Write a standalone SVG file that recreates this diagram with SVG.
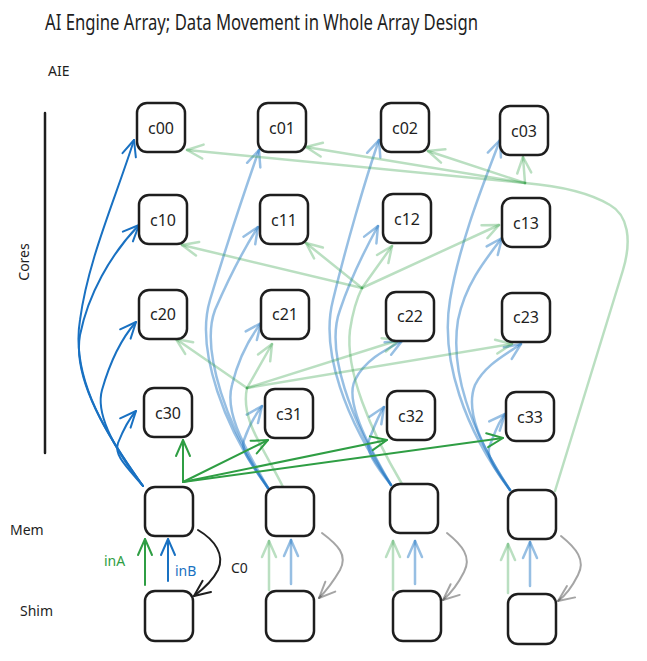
<svg xmlns="http://www.w3.org/2000/svg" width="647" height="661" viewBox="0 0 647 661">
<defs>
<style>
.box{fill:#fff;stroke:#1e1e1e;stroke-width:2.5}
.lbl{font-family:"Noto Sans","Liberation Sans",sans-serif;font-size:16px;fill:#1e1e1e;text-anchor:middle;dominant-baseline:central}
.txt{font-family:"Noto Sans","Liberation Sans",sans-serif;font-size:14px;fill:#1e1e1e}
.c{fill:none;stroke-linecap:round;stroke-linejoin:round}
.db{stroke:#1971c2;stroke-width:2;marker-end:url(#aDB)}
.lb{stroke:#1971c2;stroke-opacity:0.45;stroke-width:2.5;marker-end:url(#aLB)}
.dg{stroke:#2f9e44;stroke-width:2;marker-end:url(#aDG)}
.lg{stroke:#2f9e44;stroke-opacity:0.33;stroke-width:2.5}
.lga{stroke:#2f9e44;stroke-opacity:0.33;stroke-width:2.5;marker-end:url(#aLG)}
.bk{stroke:#1e1e1e;stroke-width:2;marker-end:url(#aBK)}
.gy{stroke:#1e1e1e;stroke-opacity:0.4;stroke-width:2;marker-end:url(#aGY)}
</style>
<marker id="aDB" markerUnits="userSpaceOnUse" viewBox="-20 -10 24 20" refX="0" refY="0" markerWidth="24" markerHeight="20" orient="auto"><path d="M-16,-7 L0,0 L-16,7" fill="none" stroke="#1971c2" stroke-width="2" stroke-linecap="round" stroke-linejoin="round"/></marker>
<marker id="aLB" markerUnits="userSpaceOnUse" viewBox="-20 -10 24 20" refX="0" refY="0" markerWidth="24" markerHeight="20" orient="auto"><path d="M-16,-7 L0,0 L-16,7" fill="none" stroke="#1971c2" stroke-opacity="0.45" stroke-width="2.5" stroke-linecap="round" stroke-linejoin="round"/></marker>
<marker id="aDG" markerUnits="userSpaceOnUse" viewBox="-20 -10 24 20" refX="0" refY="0" markerWidth="24" markerHeight="20" orient="auto"><path d="M-16,-7 L0,0 L-16,7" fill="none" stroke="#2f9e44" stroke-width="2" stroke-linecap="round" stroke-linejoin="round"/></marker>
<marker id="aLG" markerUnits="userSpaceOnUse" viewBox="-20 -10 24 20" refX="0" refY="0" markerWidth="24" markerHeight="20" orient="auto"><path d="M-16,-7 L0,0 L-16,7" fill="none" stroke="#2f9e44" stroke-opacity="0.33" stroke-width="2.5" stroke-linecap="round" stroke-linejoin="round"/></marker>
<marker id="aBK" markerUnits="userSpaceOnUse" viewBox="-20 -10 24 20" refX="0" refY="0" markerWidth="24" markerHeight="20" orient="auto"><path d="M-16,-7 L0,0 L-16,7" fill="none" stroke="#1e1e1e" stroke-width="2" stroke-linecap="round" stroke-linejoin="round"/></marker>
<marker id="aGY" markerUnits="userSpaceOnUse" viewBox="-20 -10 24 20" refX="0" refY="0" markerWidth="24" markerHeight="20" orient="auto"><path d="M-16,-7 L0,0 L-16,7" fill="none" stroke="#1e1e1e" stroke-opacity="0.4" stroke-width="2" stroke-linecap="round" stroke-linejoin="round"/></marker>
</defs>
<rect width="647" height="661" fill="#fff"/>

<g id="labels">
<text x="45" y="30" font-family="Noto Sans, Liberation Sans, sans-serif" font-size="21" fill="#1e1e1e" textLength="433" lengthAdjust="spacingAndGlyphs">AI Engine Array; Data Movement in Whole Array Design</text>
<text class="txt" x="48" y="76" font-size="13">AIE</text>
<text class="txt" transform="translate(29,262) rotate(-90)" text-anchor="middle">Cores</text>
<text class="txt" x="10" y="535">Mem</text>
<text class="txt" x="20" y="616">Shim</text>
<text class="txt" x="104" y="566" font-size="13" style="fill:#2f9e44">inA</text>
<text class="txt" x="175" y="576" font-size="13" style="fill:#1971c2">inB</text>
<text class="txt" x="231" y="573">C0</text>
<line x1="45" y1="113" x2="45" y2="453" stroke="#1e1e1e" stroke-width="2.5" stroke-linecap="round"/>
</g>

<g id="connectors">
<!-- dark blue fan from Mem0 -->
<path class="c db" d="M143,486 C110,440 70,380 80,320 C88,260 115,200 134,140"/>
<path class="c db" d="M143,486 C110,440 72,380 80,335 C88,295 110,255 139,225"/>
<path class="c db" d="M143,486 C115,450 95,415 102,390 C110,362 120,340 136,322"/>
<path class="c db" d="M143,486 C125,465 114,455 118,443 C122,433 128,420 136,411"/>
<!-- light blue col 1 -->
<path class="c lb" d="M268,488 C225,430 195,350 210,300 C225,250 245,190 259,150"/>
<path class="c lb" d="M268,488 C228,430 200,350 215,310 C228,280 240,255 258,227"/>
<path class="c lb" d="M268,488 C240,440 225,410 232,385 C238,360 248,340 261,323"/>
<path class="c lb" d="M268,488 C252,465 240,450 244,440 C248,428 253,418 262,406"/>
<!-- light blue col 2 -->
<path class="c lb" d="M391,485 C345,420 320,350 333,300 C345,250 365,180 379,140"/>
<path class="c lb" d="M391,485 C350,420 325,350 340,310 C350,280 362,255 378,226"/>
<path class="c lb" d="M391,485 C365,440 345,400 355,380 C365,360 385,350 402,341"/>
<path class="c lb" d="M391,485 C375,465 365,450 369,440 C373,430 377,418 384,407"/>
<!-- light blue col 3 -->
<path class="c lb" d="M510,490 C465,430 440,360 450,300 C460,240 485,180 500,140"/>
<path class="c lb" d="M510,490 C470,430 450,370 458,320 C465,285 485,260 502,238"/>
<path class="c lb" d="M510,490 C480,445 465,410 475,385 C485,365 505,355 521,344"/>
<path class="c lb" d="M510,490 C495,470 485,455 490,445 C494,435 498,422 505,414"/>
<!-- light green row 2 broadcast from Mem1 -->
<path class="c lg" d="M283,487 C265,450 240,420 247,388"/>
<path class="c lga" d="M247,388 L176,339"/>
<path class="c lga" d="M247,388 L272,344"/>
<path class="c lga" d="M247,388 L399,340"/>
<path class="c lga" d="M247,388 L512,344"/>
<!-- light green row 1 broadcast from Mem2 -->
<path class="c lg" d="M402,484 C370,430 345,370 350,330 C353,310 357,298 362,288"/>
<path class="c lga" d="M362,288 L182,245"/>
<path class="c lga" d="M362,288 L306,243"/>
<path class="c lga" d="M362,288 L392,246"/>
<path class="c lga" d="M362,288 L499,225"/>
<!-- light green row 0 broadcast from Mem3 -->
<path class="c lg" d="M555,491 L623,270 C632,240 628,215 610,205 C590,193 560,186 525,183"/>
<path class="c lga" d="M525,183 L187,150"/>
<path class="c lga" d="M525,183 L306,147"/>
<path class="c lga" d="M525,183 L428,151"/>
<path class="c lga" d="M525,183 L523,157"/>
<!-- dark green row 3 broadcast from Mem0 -->
<path class="c dg" d="M183,482 L183,440"/>
<path class="c dg" d="M183,482 L268,440"/>
<path class="c dg" d="M183,482 L387,440"/>
<path class="c dg" d="M183,482 L503,438"/>
<!-- shim to mem -->
<path class="c dg" d="M145,585 L145,539"/>
<path class="c db" d="M168,581 L168,539"/>
<path class="c lga" d="M269,590 L269,541"/>
<path class="c lb" d="M291,584 L291,540"/>
<path class="c lga" d="M393,590 L393,541"/>
<path class="c lb" d="M415,584 L415,541"/>
<path class="c lga" d="M508,593 L508,544"/>
<path class="c lb" d="M530,586 L530,542"/>
<!-- mem to shim -->
<path class="c bk" d="M198,530 C215,540 225,555 218,570 C212,582 202,590 194,596"/>
<path class="c gy" d="M322,533 C338,545 348,555 340,570 C333,582 325,592 319,598"/>
<path class="c gy" d="M447,533 C462,545 472,557 464,572 C458,584 450,594 443,600"/>
<path class="c gy" d="M561,536 C576,548 586,560 578,575 C572,587 565,596 558,601"/>
</g>

<g id="c00"><rect class="box" x="137" y="103" width="48" height="49" rx="10"/><text class="lbl" x="161" y="128">c00</text></g>
<g id="c01"><rect class="box" x="258" y="103" width="48" height="49" rx="10"/><text class="lbl" x="282" y="128">c01</text></g>
<g id="c02"><rect class="box" x="381" y="103" width="48" height="49" rx="10"/><text class="lbl" x="405" y="128">c02</text></g>
<g id="c03"><rect class="box" x="500" y="106" width="48" height="49" rx="10"/><text class="lbl" x="524" y="131">c03</text></g>
<g id="c10"><rect class="box" x="139" y="195" width="48" height="49" rx="10"/><text class="lbl" x="163" y="220">c10</text></g>
<g id="c11"><rect class="box" x="260" y="195" width="48" height="49" rx="10"/><text class="lbl" x="284" y="220">c11</text></g>
<g id="c12"><rect class="box" x="383" y="194" width="48" height="49" rx="10"/><text class="lbl" x="407" y="219">c12</text></g>
<g id="c13"><rect class="box" x="502" y="198" width="48" height="49" rx="10"/><text class="lbl" x="526" y="223">c13</text></g>
<g id="c20"><rect class="box" x="139" y="290" width="48" height="49" rx="10"/><text class="lbl" x="163" y="314">c20</text></g>
<g id="c21"><rect class="box" x="261" y="290" width="48" height="49" rx="10"/><text class="lbl" x="285" y="314">c21</text></g>
<g id="c22"><rect class="box" x="386" y="292" width="48" height="49" rx="10"/><text class="lbl" x="410" y="316">c22</text></g>
<g id="c23"><rect class="box" x="502" y="293" width="48" height="49" rx="10"/><text class="lbl" x="526" y="317">c23</text></g>
<g id="c30"><rect class="box" x="144" y="388" width="48" height="49" rx="10"/><text class="lbl" x="168" y="413">c30</text></g>
<g id="c31"><rect class="box" x="265" y="389" width="48" height="49" rx="10"/><text class="lbl" x="289" y="414">c31</text></g>
<g id="c32"><rect class="box" x="387" y="391" width="48" height="49" rx="10"/><text class="lbl" x="411" y="416">c32</text></g>
<g id="c33"><rect class="box" x="506" y="392" width="48" height="49" rx="10"/><text class="lbl" x="530" y="417">c33</text></g>
<g id="mem0"><rect class="box" x="145" y="487" width="48" height="49" rx="10"/></g>
<g id="mem1"><rect class="box" x="266" y="487" width="48" height="49" rx="10"/></g>
<g id="mem2"><rect class="box" x="390" y="484" width="48" height="49" rx="10"/></g>
<g id="mem3"><rect class="box" x="508" y="490" width="48" height="49" rx="10"/></g>
<g id="shim0"><rect class="box" x="145" y="591" width="48" height="50" rx="10"/></g>
<g id="shim1"><rect class="box" x="266" y="591" width="48" height="50" rx="10"/></g>
<g id="shim2"><rect class="box" x="393" y="591" width="48" height="50" rx="10"/></g>
<g id="shim3"><rect class="box" x="508" y="594" width="48" height="50" rx="10"/></g>
</svg>
